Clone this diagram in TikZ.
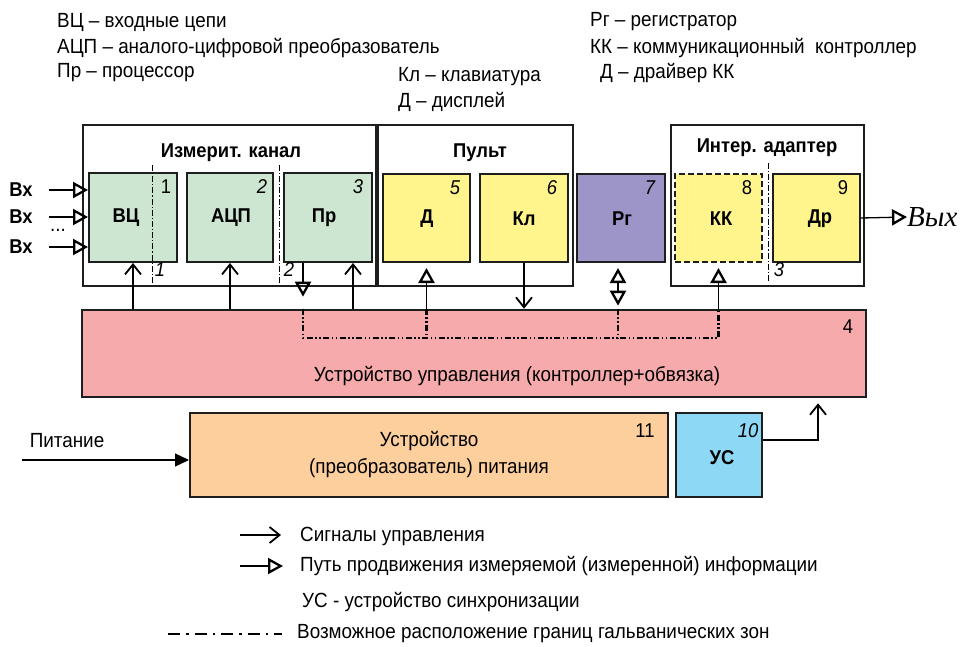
\documentclass[tikz,border=0pt]{standalone}
\usepackage{fontspec}
\setmainfont{Liberation Sans}[FakeStretch=0.92]
\newfontfamily\vyhfont{Liberation Serif}
\usetikzlibrary{arrows.meta,calc}
\definecolor{cgreen}{RGB}{205,230,210}
\definecolor{cyellow}{RGB}{255,245,140}
\definecolor{cpurple}{RGB}{157,149,200}
\definecolor{cpink}{RGB}{246,170,172}
\definecolor{cpeach}{RGB}{253,207,157}
\definecolor{cblue}{RGB}{141,216,245}
\definecolor{cline}{RGB}{30,30,30}
\tikzset{
  txt/.style={font=\fontsize{20.5}{22}\selectfont, inner sep=0pt},
  ltxt/.style={txt, anchor=west},
  ttl/.style={font=\fontsize{20}{22}\selectfont\bfseries, inner sep=0pt},
  blk/.style={draw=cline, line width=2pt, minimum width=88pt, minimum height=89pt, inner sep=0pt},
  outerbox/.style={draw=cline, line width=1.2pt},
  num/.style={font=\fontsize{20}{22}\selectfont, inner sep=0pt},
  numi/.style={font=\fontsize{20}{22}\selectfont\itshape, inner sep=0pt},
  ctl/.style={draw=black, line width=1.3pt, -{Straight Barb[length=10pt,width=16pt,line width=1.8pt]}},
  info/.style={draw=black, line width=1.3pt, -{Triangle[open,length=15pt,width=16pt,line width=2.3pt]}},
  infotwo/.style={draw=black, line width=1.3pt, {Triangle[open,length=15pt,width=16pt,line width=2.3pt]}-{Triangle[open,length=15pt,width=16pt,line width=2.3pt]}},
  feed/.style={draw=black, line width=1.3pt, -{Triangle[length=14pt,width=13pt]}},
  galv/.style={draw=black, line width=2.6pt, dash pattern=on 6pt off 2.5pt on 1.5pt off 2.5pt on 1.5pt off 2.5pt},
  galvleg/.style={draw=black, line width=2.8pt, dash pattern=on 12pt off 6pt on 2.5pt off 6pt},
  divider/.style={draw=black, line width=1pt, dash pattern=on 6pt off 2pt on 1.2pt off 2pt},
}
\begin{document}
\begin{tikzpicture}[x=1pt,y=-1pt]
\useasboundingbox (0,0) rectangle (976,646);

% top legend texts
\node[ltxt] (t1) at (57,22) {ВЦ – входные цепи};
\node[ltxt] (t2) at (57,48) {АЦП – аналого-цифровой преобразователь};
\node[ltxt] (t3) at (57,73) {Пр – процессор};
\node[ltxt] (t4) at (398,77) {Кл – клавиатура};
\node[ltxt] (t5) at (398,102) {Д – дисплей};
\node[ltxt] (t6) at (590,22) {Рг – регистратор};
\node[ltxt] (t7) at (590,48) {КК – коммуникационный\ \ контроллер};
\node[ltxt] (t8) at (600,73) {Д – драйвер КК};

% outer boxes
\draw[outerbox] (83,125) rectangle (376,286);
\draw[outerbox] (378,125) rectangle (573,286);
\draw[outerbox] (671,125) rectangle (864,286);
\node[ttl] (ttlm) at (231,153) {Измерит. канал};
\node[ttl] (ttlp) at (480,153) {Пульт};
\node[ttl] (ttli) at (767,148) {Интер. адаптер};

% blocks
\node[blk, fill=cgreen] (vc) at (133,217.5) {};
\node[blk, fill=cgreen, minimum width=86pt] (adc) at (230,217.5) {};
\node[blk, fill=cgreen] (pr) at (328,217.5) {};
\node[blk, fill=cyellow, minimum width=87pt, minimum height=88pt] (d) at (426.5,218) {};
\node[blk, fill=cyellow, minimum height=88pt] (kl) at (524,218) {};
\node[blk, fill=cpurple, minimum height=88pt] (rg) at (621,218) {};
\node[blk, fill=cyellow, dashed, dash pattern=on 6pt off 3pt, minimum width=87pt, minimum height=88pt] (kk) at (718.5,218) {};
\node[blk, fill=cyellow, line width=1.6pt, minimum width=87pt, minimum height=88pt] (dr) at (816.5,218) {};

\node[ttl] (vct) at (126,218) {ВЦ};
\node[ttl] (adct) at (231,218) {АЦП};
\node[ttl] (prt) at (324,218) {Пр};
\node[ttl] (dt) at (427,219) {Д};
\node[ttl] (klt) at (524,219) {Кл};
\node[ttl] (rgt) at (622,219) {Рг};
\node[ttl] (kkt) at (721,219) {КК};
\node[ttl] (drt) at (820,219) {Др};

% dividers
\draw[divider] (152,165) -- (152,283);
\draw[divider] (279,165) -- (279,283);
\draw[divider] (768,163) -- (768,282);

% numbers
\node[num] (n1) at (166,187) {1};
\node[numi] (n2) at (262,187) {2};
\node[numi] (n3) at (358,187) {3};
\node[numi] (n5) at (455,188) {5};
\node[numi] (n6) at (552,188) {6};
\node[numi] (n7) at (650,188) {7};
\node[num] (n8) at (747,188) {8};
\node[num] (n9) at (843,188) {9};
\node[numi] (z1) at (160,270) {1};
\node[numi] (z2) at (289,270) {2};
\node[numi] (z3) at (779,270) {3};

% inputs
\node[ttl] (vx1) at (21,190) {Вх};
\node[ttl] (vx2) at (21,217) {Вх};
\node[ttl] (vx3) at (21,247) {Вх};
\node[txt] (dots) at (58,230) {...};
\draw[info, shorten <=16pt] (vx1.east) -- (vx1.east -| vc.west);
\draw[info, shorten <=16pt] (vx2.east) -- (vx2.east -| vc.west);
\draw[info, shorten <=16pt] (vx3.east) -- (vx3.east -| vc.west);

% control bar
\node[draw=cline, line width=2.6pt, fill=cpink, minimum width=784pt, minimum height=87pt, inner sep=0pt] (bar) at (474,353.5) {};
\node[txt] (bartxt) at (517,376) {Устройство управления (контроллер+обвязка)};
\node[num] (n4) at (848,327) {4};

% column coordinates
\coordinate (prd) at (303,0);
\coordinate (pru) at (353,0);
\coordinate (rgx) at (618,0);
\coordinate (gy) at (0,338);

% galvanic boundaries inside bar
\draw[galv] (bar.north -| prd) -- (prd |- gy) -- (kk |- gy) -- (bar.north -| kk);
\draw[galv] (bar.north -| d) -- (d |- gy);
\draw[galv] (bar.north -| rgx) -- (rgx |- gy);

% connectors
\draw[ctl] (bar.north -| vc) -- (vc.south);
\draw[ctl] (bar.north -| adc) -- (adc.south);
\draw[info, shorten >=12pt] (pr.south -| prd) -- (bar.north -| prd);
\draw[ctl] (bar.north -| pru) -- (pr.south -| pru);
\draw[info, shorten >=5pt] (bar.north -| d) -- (d.south);
\draw[ctl] (kl.south) -- (bar.north -| kl);
\draw[infotwo, shorten >=5pt, shorten <=3pt] (bar.north -| rgx) -- (rg.south -| rgx);
\draw[info, shorten >=5pt] (bar.north -| kk) -- (kk.south);

\node[font=\vyhfont\itshape\fontsize{29}{30}\selectfont, inner sep=0pt, anchor=west] (vyh) at (907,217) {Вых};
\draw[info] (dr.east) -- (vyh.west);

% bottom blocks
\node[draw=cline, line width=2pt, fill=cpeach, minimum width=478pt, minimum height=84pt, inner sep=0pt, align=center, font=\fontsize{20.5}{27}\selectfont] (pw) at (429,455) {Устройство\\(преобразователь) питания};
\node[num] (n11) at (645,431) {11};
\node[blk, fill=cblue, minimum width=86pt, minimum height=84pt] (us) at (719,455) {};
\node[ttl] (ustxt) at (722,458) {УС};
\node[numi] (n10) at (748,431) {10};

\node[txt] (pit) at (67,441) {Питание};
\coordinate (pin) at (22,460);
\draw[feed] (pin) -- (pin -| pw.west);

\coordinate (usout) at (0,440);
\coordinate (usbar) at (818,0);
\draw[ctl, shorten >=5pt] (us.east |- usout) -| (bar.south -| usbar);

% legend
\coordinate (l1a) at (240,535); \coordinate (l1b) at (281,535);
\draw[ctl] (l1a) -- (l1b);
\node[ltxt] (l1t) at (300,536) {Сигналы управления};
\coordinate (l2a) at (240,566); \coordinate (l2b) at (283,566);
\draw[info] (l2a) -- (l2b);
\node[ltxt] (l2t) at (300,566) {Путь продвижения измеряемой (измеренной) информации};
\node[ltxt] (l3t) at (302,602) {УС - устройство синхронизации};
\coordinate (l4a) at (168,634); \coordinate (l4b) at (282,634);
\draw[galvleg] (l4a) -- (l4b);
\node[ltxt] (l4t) at (297,634) {Возможное расположение границ гальванических зон};
\end{tikzpicture}
\end{document}
